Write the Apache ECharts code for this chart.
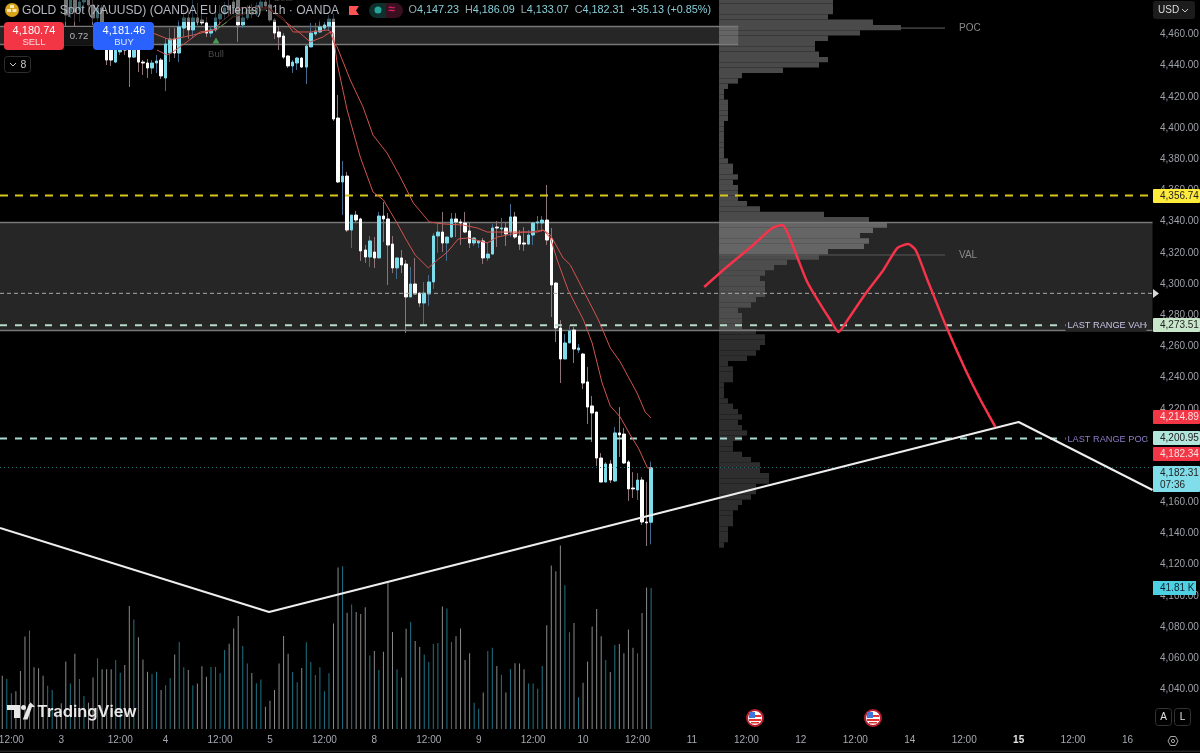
<!DOCTYPE html>
<html>
<head>
<meta charset="utf-8">
<style>html,body{margin:0;padding:0;background:#000}#chart{width:1200px;height:753px}</style>
<script src="https://cdn.jsdelivr.net/npm/echarts@6/dist/echarts.min.js"></script>
</head>
<body>
<div id="chart"></div>
<script>
// XAUUSD 1h candles: [open, close, low, high]
const ohlc = [
[4512,4506,4504,4516],[4506,4510,4503,4513],[4510,4515,4507,4518],[4515,4509,4505,4517],[4509,4504,4500,4512],
[4504,4497,4494,4507],[4497,4503,4494,4506],[4503,4499,4495,4505],[4499,4495,4492,4502],[4495,4492,4489,4497],
[4492,4495,4490,4498],[4495,4497,4493,4499],[4497,4493,4490,4499],[4493,4487,4485,4495],
[4484.0,4472.5,4462.9,4487.2],[4474.4,4485.3,4470.6,4487.2],[4482.1,4474.4,4464.1,4485.3],[4475.7,4480.8,4468.0,4484.7],
[4480.8,4485.9,4475.7,4488.5],[4485.9,4478.9,4474.4,4487.9],[4478.9,4470.6,4466.1,4482.1],[4470.6,4477.0,4465.4,4479.5],
[4477.0,4462.9,4459.7,4478.9],[4453.2,4443.6,4440.4,4456.5],[4450.0,4443.6,4439.8,4453.2],[4442.3,4450.0,4441.7,4456.5],
[4448.8,4456.5,4446.8,4459.7],[4456.5,4450.0,4446.8,4460.9],[4453.2,4445.5,4426.3,4456.5],[4445.5,4452.0,4444.9,4453.2],
[4452.0,4442.3,4435.9,4453.2],[4442.3,4441.7,4434.0,4443.6],[4441.7,4438.5,4432.1,4444.3],[4438.5,4441.7,4434.7,4443.6],
[4441.7,4443.0,4435.3,4446.8],[4443.6,4433.4,4431.4,4444.9],[4432.1,4453.9,4423.7,4457.7],[4448.1,4457.1,4442.3,4464.1],
[4457.1,4448.1,4444.9,4464.1],[4448.1,4464.8,4442.3,4469.3],[4464.1,4470.6,4458.4,4475.7],[4470.6,4462.9,4457.1,4477.0],
[4462.9,4470.6,4457.7,4482.1],[4470.6,4468.0,4466.1,4480.2],[4469.3,4467.4,4466.1,4473.8],[4467.4,4460.9,4458.4,4471.2],
[4460.9,4462.9,4458.4,4464.8],[4462.9,4470.6,4461.6,4475.7],[4469.9,4473.1,4466.1,4478.9],[4473.1,4477.0,4469.3,4480.8],
[4478.3,4475.7,4471.8,4482.1],[4480.8,4477.0,4473.1,4484.0],[4484.0,4466.1,4455.2,4485.9],[4466.1,4470.6,4464.1,4477.0],
[4470.6,4475.7,4469.3,4478.9],[4475.7,4473.1,4470.6,4479.5],[4473.1,4478.3,4471.8,4480.8],[4477.0,4480.8,4475.7,4483.4],
[4480.8,4478.3,4475.7,4483.4],[4478.9,4469.3,4468.0,4482.1],[4469.3,4460.9,4457.1,4470.6],[4461.6,4458.4,4450.0,4464.8],
[4459.0,4445.5,4444.3,4460.9],[4446.2,4439.8,4438.5,4446.8],[4439.8,4442.3,4435.3,4443.6],[4441.7,4444.9,4437.2,4445.5],
[4444.9,4439.1,4438.5,4445.5],[4439.1,4452.6,4428.2,4453.2],[4452.0,4460.9,4452.0,4467.4],[4460.3,4462.2,4459.0,4467.4],
[4461.6,4464.8,4460.9,4469.3],[4464.1,4466.1,4462.2,4468.0],[4465.4,4469.9,4462.2,4472.5],[4469.9,4405.8,4404.5,4473.1],
[4406.4,4365.4,4364.8,4421.2],[4365.4,4369.2,4344.2,4378.9],[4369.2,4334.6,4333.3,4371.8],[4334.6,4344.2,4323.1,4344.2],
[4344.2,4341.0,4339.1,4346.8],[4341.7,4321.2,4314.8,4342.5],[4321.8,4317.3,4313.5,4325.0],[4317.3,4327.6,4310.9,4330.8],
[4320.5,4316.7,4310.3,4330.1],[4316.7,4343.6,4316.7,4346.2],[4343.6,4341.7,4326.9,4352.6],[4341.7,4325.0,4299.4,4345.5],
[4325.6,4310.3,4307.0,4330.8],[4310.3,4316.7,4303.2,4316.7],[4316.7,4312.2,4307.0,4321.8],[4312.8,4291.7,4268.6,4315.4],
[4291.7,4300.0,4291.7,4310.9],[4300.0,4293.6,4293.6,4316.7],[4294.2,4287.8,4285.3,4294.2],[4287.8,4294.2,4273.1,4301.3],
[4293.6,4301.3,4285.9,4305.8],[4301.3,4330.8,4296.8,4332.7],[4330.8,4333.3,4319.9,4339.1],[4333.3,4326.3,4320.5,4346.2],
[4326.3,4330.1,4314.8,4330.1],[4330.1,4341.7,4329.5,4345.5],[4341.7,4339.8,4330.1,4345.5],[4339.8,4339.1,4325.0,4341.7],
[4339.1,4333.3,4332.7,4346.2],[4334.0,4326.3,4323.1,4339.8],[4326.3,4329.5,4324.4,4330.1],[4326.3,4327.6,4323.1,4328.2],
[4327.6,4316.7,4312.8,4329.5],[4316.7,4319.2,4314.8,4326.9],[4319.2,4335.9,4318.6,4338.5],[4336.5,4335.9,4323.7,4340.4],
[4335.3,4335.9,4331.4,4342.3],[4335.9,4332.1,4324.4,4339.8],[4333.3,4343.0,4330.1,4351.3],[4343.0,4330.1,4328.9,4346.2],
[4330.8,4325.6,4321.8,4334.6],[4326.3,4325.6,4321.2,4336.5],[4325.6,4331.4,4325.0,4334.6],[4331.4,4339.1,4325.0,4339.1],
[4339.1,4339.8,4334.6,4343.6],[4339.1,4341.0,4333.3,4343.6],[4341.0,4328.2,4325.0,4363.5],[4328.9,4299.4,4278.8,4335.9],
[4300.6,4271.8,4262.8,4301.3],[4271.8,4251.9,4236.5,4276.9],[4251.9,4262.2,4251.9,4267.9],[4262.2,4269.9,4262.2,4273.7],
[4270.5,4258.3,4249.3,4272.4],[4257.7,4259.0,4255.8,4261.5],[4255.1,4236.5,4232.7,4255.8],[4237.2,4221.1,4210.2,4246.8],
[4221.8,4217.3,4198.7,4228.2],[4217.9,4188.4,4183.3,4217.9],[4188.4,4173.0,4173.0,4191.6],[4173.0,4184.6,4173.0,4185.9],
[4184.6,4174.3,4172.4,4187.1],[4173.7,4204.5,4173.0,4208.3],[4204.5,4203.2,4189.1,4221.1],[4203.8,4185.2,4184.6,4207.7],
[4185.9,4168.6,4160.9,4187.1],[4169.2,4168.6,4162.8,4179.4],[4167.9,4174.3,4161.5,4178.8],[4174.3,4147.4,4145.5,4176.2],
[4147.4,4146.8,4132.0,4173.0],[4147.23,4182.31,4133.07,4186.09]
];

// Traded volume per bar, in thousands
const volumes = [
15.8,14.8,10.6,11.2,17.2,27.4,29.2,18.3,18.0,15.8,12.8,11.6,5.1,7.6,20.0,13.5,22.3,14.8,9.8,7.8,
15.3,21.0,17.7,17.7,17.7,20.5,16.7,19.0,36.5,32.5,27.2,20.6,17.0,16.3,17.0,11.6,13.0,15.1,22.1,25.8,
18.3,17.5,12.9,13.5,18.6,15.5,18.4,18.4,16.5,23.4,25.3,29.8,33.5,24.6,19.4,16.6,13.6,14.7,6.6,8.4,
11.6,19.4,27.6,22.3,16.9,13.9,18.1,25.7,19.9,16.0,18.3,11.2,16.5,31.3,47.9,
48.3,34.5,36.9,34.7,34.1,36.1,21.8,23.1,17.5,22.9,43.4,28.8,17.7,15.3,29.7,31.7,26.1,24.3,22.1,19.9,
25.2,25.5,36.3,35.7,25.8,27.5,29.8,20.5,22.5,7.8,6.0,10.8,23.1,24.1,18.7,16.1,10.8,17.8,19.5,19.4,
17.7,13.5,13.5,11.9,18.7,30.8,48.5,46.8,54.4,42.6,28.7,31.4,9.4,13.7,20.0,30.4,35.6,27.5,20.5,16.9,
24.9,25.2,22.5,29.5,24.1,22.5,34.4,42.0,41.81
];

// Moving averages as [bar, price] knots
const emaFast = [
[34.1,4450.0],[36.3,4446.8],[37.6,4448.8],[40.7,4455.2],[43.6,4461.6],[46.5,4462.9],[48.7,4469.3],[52.4,4477.0],[58.4,4477.6],
[61.9,4470.6],[64.1,4461.6],[67.9,4461.6],[71.8,4462.9],[72.9,4460.9],[73.8,4441.7],[76,4411.6],[78.9,4381.4],[81.7,4359.0],
[84,4353.9],[87,4339.1],[88.8,4329.5],[91,4318.6],[93.9,4310.3],[95.9,4315.4],[98.1,4320.5],[100.5,4328.9],[102.7,4329.5],
[106.9,4326.3],[109.1,4330.1],[111.3,4331.4],[114.8,4333.3],[117.9,4333.3],[119.2,4334.6],[120.8,4329.5],[122.3,4315.4],
[124.7,4296.2],[128.1,4276.9],[130,4262.2],[132.2,4236.5],[134,4221.8],[136.2,4214.7],[138.4,4203.2],[140.2,4194.8],[142.2,4182.0],[143,4182.0]
];
const emaSlow = [
[33.2,4460.9],[37,4456.5],[42.1,4459.7],[47.4,4463.5],[50.9,4471.2],[58.4,4477.0],[61.9,4469.3],[65.6,4460.9],[67.9,4455.2],
[70.7,4458.4],[72.3,4461.6],[73.1,4454.5],[73.8,4452.0],[76.7,4430.8],[79.5,4413.5],[81.7,4395.5],[84.8,4384.0],[87.7,4368.6],
[90.6,4351.9],[94.1,4339.8],[97.2,4338.5],[101.6,4337.8],[104.7,4335.9],[106.9,4333.3],[111.3,4333.3],[116.4,4333.3],[119.2,4334.6],
[120.8,4331.4],[123.6,4316.7],[125.2,4312.2],[131.4,4276.9],[134,4259.0],[136.2,4250.0],[139.9,4230.1],[141.7,4217.9],[143,4214.1]
];
const trendShort = [[47.4,4463.5],[49.5,4468],[51,4472.5],[54,4474.5],[58,4475.7]];

// Hand-drawn trend line and projected path, as [bar, price]
const trendLine = [[-0.5,4143.5],[58.8,4089.7],[224,4211.5],[253.5,4167.9]];
const projection = [
[154.7,4298.1],[158.9,4309.0],[165.5,4325.0],[169.7,4335.9],[171.9,4337.8],[173.0,4333.3],[175.2,4317.3],[177.2,4302.6],
[178.8,4294.2],[182.5,4276.9],[184.3,4269.2],[186.3,4276.9],[190.2,4293.6],[194.2,4309.0],[197.3,4323.1],[199.7,4325.6],
[201.3,4321.8],[203.9,4302.6],[207.9,4273.7],[212.3,4244.9],[215.6,4225.6],[218.9,4208.3]
];

// Volume profile rows, top row first
const profileTopPrice = 4483.2;
const profileRowSize = 3.42;
const profileRows = [
114,114,114,109,154,182,141,109,96,96,100,109,100,64,23,19,9,5,5,9,9,9,9,5,5,5,5,5,5,5,9,14,14,19,14,19,19,19,
28,41,105,150,168,154,141,150,145,109,100,68,55,46,41,46,46,46,37,32,19,23,23,23,37,46,46,41,37,28,9,14,14,14,
5,5,5,9,14,19,23,19,23,28,23,14,14,23,32,41,41,50,50,37,37,32,23,19,14,14,14,9,9,9,5
];
const pocPrice = 4464.1;
const valPrice = 4318.6;

// Shaded zones
const zoneFrom = [-0.5, -0.5];
const zoneTo = [162.2, 253.5];
const zoneHigh = [4465.6, 4339.5];
const zoneLow = [4454.1, 4270.5];

// Horizontal levels
const levelPrices = [4356.74, 4294, 4273.51, 4200.95, 4182.31];
const levelStyles = [
  {color:'#d8c81e', width:2, type:[8,7]},
  {color:'#a8a8a8', width:1, type:[4,3]},
  {color:'#b6dcc8', width:2, type:[7,8]},
  {color:'#a8dcd2', width:2, type:[7,8]},
  {color:'#23707a', width:1, type:[1,3]}
];

// Axis labels
const priceTicks = [4040,4060,4080,4100,4120,4140,4160,4180,4200,4220,4240,4260,4280,4300,4320,4340,4360,4380,4400,4420,4440,4460];
const tickBars = [2,13,26,36,48,59,71,82,94,105,117,128,140,152,164,176,188,200,212,224,236,248];
const tickTexts = ['12:00','3','12:00','4','12:00','5','12:00','8','12:00','9','12:00','10','12:00','11','12:00','12','12:00','14','12:00','15','12:00','16'];

// Price tags beside the scale
const tagAnchors = [4356.74,4273.51,4214.5,4200.95,4190.7,4175];
const tagTexts = ['4,356.74','4,273.51','4,214.89','4,200.95','4,182.34','4,182.31\n07:36'];
const tagFills = ['#ffeb3b','#c8e6c9','#f23645','#b2e5dc','#f23645','#80deea'];
const tagInks = ['#222','#222','#ffe0e0','#222','#ffe0e0','#222'];
const volumeTag = 41.81;

const barCount = 254;
const priceMin = 4014.66, priceMax = 4482.1;
const FONT = '"Liberation Sans", Arial, sans-serif';
const categories = Array.from({length: barCount}, () => '');
tickBars.forEach((b, i) => { categories[b] = tickTexts[i]; });

const bodies = ohlc.map(r => [r[0], r[1], Math.min(r[0], r[1]), Math.max(r[0], r[1])]);
const isUp = r => r[1] >= r[0];
const flat = (p) => ({type:'line', showSymbol:false, silent:true, animation:false, xAxisIndex:1, yAxisIndex:0, ...p});

function levelSeries() {
  return levelPrices.map((p, i) => flat({
    z: 5,
    data: [[-0.5, p], [253.5, p]],
    lineStyle: levelStyles[i]
  }));
}

function renderZone(params, api) {
  const a = api.coord([api.value(0), api.value(2)]);
  const b = api.coord([api.value(1), api.value(3)]);
  const yTop = Math.round(a[1]) + 0.5, yBot = Math.round(b[1]) + 0.5;
  return {type:'group', children:[
    {type:'rect', shape:{x:a[0], y:yTop, width:b[0]-a[0], height:yBot-yTop}, style:{fill:'rgba(255,255,255,0.15)'}},
    {type:'line', shape:{x1:a[0], y1:yTop, x2:b[0], y2:yTop}, style:{stroke:'#787878', lineWidth:1.4}},
    {type:'line', shape:{x1:a[0], y1:yBot, x2:b[0], y2:yBot}, style:{stroke:'#787878', lineWidth:1.4}}
  ]};
}

function renderProfileRow(params, api) {
  const row = api.value(0), size = api.value(1);
  const top = profileTopPrice - row * profileRowSize;
  const p0 = api.coord([0, top]);
  const p1 = api.coord([size, top - profileRowSize]);
  return {type:'rect',
    shape:{x:p0[0], y:p0[1], width:p1[0]-p0[0], height:p1[1]-p0[1]},
    style:{fill: top - profileRowSize / 2 > valPrice ? '#4a4a4a' : '#2e2e2e'}};
}

function renderTag(params, api) {
  const i = params.dataIndex;
  const pt = api.coord([api.value(0), api.value(1)]);
  const h = tagTexts[i].includes('\n') ? 26 : 14;
  const x = pt[0] + 0.5, y = Math.round(pt[1] - h / 2);
  return {type:'group', children:[
    {type:'rect', shape:{x, y, width:47, height:h, r:1}, style:{fill:tagFills[i]}},
    {type:'text', style:{text:tagTexts[i], x:x+7, y:y+h/2, fill:tagInks[i], font:'10px '+FONT, lineHeight:12, align:'left', verticalAlign:'middle'}}
  ]};
}

function renderRangeLabel(params, api) {
  const pt = api.coord([api.value(0), api.value(1)]);
  const txt = params.dataIndex === 0 ? 'LAST RANGE VAH' : 'LAST RANGE POC';
  return {type:'group', children:[
    {type:'rect', shape:{x:pt[0]-87, y:pt[1]-6, width:81, height:12}, style:{fill: params.dataIndex === 0 ? '#262626' : '#000'}},
    {type:'text', style:{text:txt, x:pt[0]-85, y:pt[1]+0.5, fill: params.dataIndex === 0 ? '#c8c4e6' : '#8f7cc8', font:'9.2px '+FONT, align:'left', verticalAlign:'middle'}}
  ]};
}

function flagBadge(cx, cy) {
  return [
    {type:'circle', z:120, shape:{cx, cy, r:8}, style:{fill:'#fff', stroke:'#b71c2c', lineWidth:2}},
    {type:'rect', z:121, shape:{x:cx-6, y:cy-6, width:6, height:6}, style:{fill:'#3d76d8'}},
    {type:'rect', z:121, shape:{x:cx, y:cy-3, width:6, height:2}, style:{fill:'#d33'}},
    {type:'rect', z:121, shape:{x:cx-6, y:cy+1, width:12, height:2}, style:{fill:'#d33'}},
    {type:'rect', z:121, shape:{x:cx-4, y:cy+4, width:8, height:1.5}, style:{fill:'#d33'}}
  ];
}

const txt = (text, x, y, fill, font, extra) => ({type:'text', z:130, style:{text, x, y, fill, font:font + ' ' + FONT, verticalAlign:'middle', align:'left', ...(extra||{})}});

const chrome = [
  // legend strip
  {type:'rect', z:100, shape:{x:0, y:0, width:345, height:22}, style:{fill:'rgba(0,0,0,0.55)'}},
  {type:'circle', z:130, shape:{cx:12, cy:10, r:7}, style:{fill:'#d8a21a'}},
  {type:'rect', z:131, shape:{x:10, y:5, width:4, height:3}, style:{fill:'#fbe9b0'}},
  {type:'rect', z:131, shape:{x:7, y:9, width:4, height:3}, style:{fill:'#fbe9b0'}},
  {type:'rect', z:131, shape:{x:12.5, y:9, width:4, height:3}, style:{fill:'#fbe9b0'}},
  txt('GOLD Spot (XAUUSD) (OANDA EU Clients) · 1h · OANDA', 22, 10.5, '#b2b5be', '12.1px'),
  {type:'polygon', z:130, shape:{points:[[349,6],[359,6],[356,10.5],[359,15],[349,15]]}, style:{fill:'#ff5252'}},
  {type:'rect', z:130, shape:{x:369, y:3, width:17, height:15, r:[7.5,0,0,7.5]}, style:{fill:'#0e2f2b'}},
  {type:'rect', z:130, shape:{x:386, y:3, width:17, height:15, r:[0,7.5,7.5,0]}, style:{fill:'#381020'}},
  {type:'circle', z:131, shape:{cx:378, cy:10, r:3.5}, style:{fill:'#26a69a'}},
  txt('≈', 388.5, 10, '#e91e63', 'bold 12px'),
  {type:'text', z:130, style:{
    x:408.5, y:10, verticalAlign:'middle', align:'left', font:'10.8px '+FONT,
    text:'{l|O}{v|4,147.23}  {l|H}{v|4,186.09}  {l|L}{v|4,133.07}  {l|C}{v|4,182.31}  {v|+35.13 (+0.85%)}',
    rich:{l:{fill:'#9aa5ab', font:'10.8px '+FONT}, v:{fill:'#86cfd9', font:'10.8px '+FONT}}
  }},
  // order buttons
  {type:'rect', z:130, shape:{x:4, y:22, width:60, height:28, r:4}, style:{fill:'#f23645'}},
  txt('4,180.74', 34, 31, '#fff', '11px', {align:'center'}),
  txt('SELL', 34, 42.5, '#ffd9dc', '9.5px', {align:'center'}),
  {type:'rect', z:129, shape:{x:64, y:27, width:29, height:18}, style:{fill:'#141414'}},
  txt('0.72', 79, 36, '#b2b5be', '9.5px', {align:'center'}),
  {type:'rect', z:130, shape:{x:93, y:22, width:61, height:28, r:4}, style:{fill:'#2962ff'}},
  txt('4,181.46', 124, 31, '#fff', '11px', {align:'center'}),
  txt('BUY', 124, 42.5, '#dbe4ff', '9.5px', {align:'center'}),
  {type:'rect', z:130, shape:{x:4.5, y:56.5, width:26, height:16, r:3}, style:{fill:'#000', stroke:'#2e2e2e'}},
  {type:'polyline', z:131, shape:{points:[[10,63],[13,66],[16,63]]}, style:{stroke:'#c8c8c8', fill:null, lineWidth:1}},
  txt('8', 20.5, 65, '#c8c8c8', '10.5px'),
  // Bull and Bear markers
  {type:'polygon', z:110, shape:{points:[[216,37.5],[219.5,43.5],[212.5,43.5]]}, style:{fill:'#4b9a55'}},
  txt('Bull', 216, 54.5, '#4a4a4a', '9.5px', {align:'center'}),
  txt('Bear', 284, -1.5, '#3e3e3e', '9.5px', {align:'center'}),
  // scale header
  {type:'rect', z:130, shape:{x:1153, y:1, width:42, height:18, r:3}, style:{fill:'#1c1c1c'}},
  txt('USD', 1158, 10.5, '#dcdcdc', '10px'),
  {type:'polyline', z:131, shape:{points:[[1182,9],[1185,12],[1188,9]]}, style:{stroke:'#c8c8c8', fill:null, lineWidth:1}},
  // scale marker
  {type:'polygon', z:130, shape:{points:[[1153,289],[1159,293.5],[1153,298]]}, style:{fill:'#d8d8d8'}},
  // logo
  {type:'polygon', z:130, shape:{points:[[7,705],[20,705],[20,718],[14,718],[14,710],[7,710]]}, style:{fill:'#e8e8e8'}},
  {type:'circle', z:130, shape:{cx:23.5, cy:707.5, r:2.5}, style:{fill:'#e8e8e8'}},
  {type:'polygon', z:130, shape:{points:[[25,718],[30,705.5],[31.5,705.5],[31,705],[26.5,718]]}, style:{fill:'#e8e8e8', stroke:'#e8e8e8', lineWidth:3}},
  {type:'text', z:130, style:{text:'TradingView', x:37, y:712, fill:'#e8e8e8', font:'600 16.4px Inter, sans-serif', verticalAlign:'middle', align:'left'}},
  // footer tools
  ...flagBadge(755, 718), ...flagBadge(873, 718),
  {type:'rect', z:130, shape:{x:1155.5, y:708.5, width:16, height:17, r:3}, style:{fill:'#000', stroke:'#333'}},
  txt('A', 1163.5, 717.5, '#e0e0e0', '10px', {align:'center'}),
  {type:'rect', z:130, shape:{x:1174.5, y:708.5, width:16, height:17, r:3}, style:{fill:'#000', stroke:'#333'}},
  txt('L', 1182.5, 717.5, '#e0e0e0', '10px', {align:'center'}),
  {type:'polygon', z:130, shape:{points:[[1168,741],[1170.5,736.5],[1175.5,736.5],[1178,741],[1175.5,745.5],[1170.5,745.5]]}, style:{fill:'none', stroke:'#a8a8a8', lineWidth:1}},
  {type:'circle', z:130, shape:{cx:1173, cy:741, r:1.6}, style:{fill:'none', stroke:'#a8a8a8', lineWidth:1}},
  {type:'rect', z:130, shape:{x:0, y:750.5, width:1200, height:1.5}, style:{fill:'#242424'}}
];

const chart = echarts.init(document.getElementById('chart'), null, {renderer:'canvas'});
chart.setOption({
  animation:false,
  backgroundColor:'#000',
  graphic: chrome,
  grid:[
    {left:0, top:0, width:1152.5, height:729, outerBoundsMode:'none'},
    {left:719, top:0, width:433.5, height:729, outerBoundsMode:'none'}
  ],
  xAxis:[
    {type:'category', gridIndex:0, data:categories, boundaryGap:true, axisLine:{show:false}, axisTick:{show:false}, splitLine:{show:false},
     axisLabel:{interval:(i, v) => v !== '', margin:6, color:'#a6a9b0', fontFamily:'Liberation Sans', fontSize:10, hideOverlap:false,
       formatter:v => v === '15' ? '{b|15}' : v, rich:{b:{color:'#e4e4e4', fontWeight:'bold', fontFamily:'Liberation Sans', fontSize:10}}}},
    {type:'value', gridIndex:0, min:-0.5, max:253.5, show:false},
    {type:'value', gridIndex:1, min:0, max:433.5, show:false}
  ],
  yAxis:[
    {type:'value', gridIndex:0, position:'right', min:priceMin, max:priceMax, axisLine:{show:false}, axisTick:{show:false}, splitLine:{show:false},
     axisLabel:{customValues:priceTicks, margin:7.5, color:'#9ea1a8', fontFamily:'Liberation Sans', fontSize:10,
       formatter:v => v.toLocaleString('en-US',{minimumFractionDigits:2, maximumFractionDigits:2})}},
    {type:'value', gridIndex:0, min:0, max:216.2, show:false},
    {type:'value', gridIndex:1, min:priceMin, max:priceMax, show:false}
  ],
  series:[
    {name:'Volume', type:'bar', xAxisIndex:0, yAxisIndex:1, barWidth:1, z:1, silent:true, large:false,
     data:volumes.map((v, i) => ({value:v, itemStyle:{color: isUp(ohlc[i]) ? '#1f7585' : '#8a8a8a'}}))},
    {name:'Volume profile', type:'custom', xAxisIndex:2, yAxisIndex:2, z:1, silent:true, clip:true, renderItem:renderProfileRow,
     encode:{x:1}, data:profileRows.map((v, i) => [i, v])},
    {name:'Zones', type:'custom', xAxisIndex:1, yAxisIndex:0, z:2, silent:true, clip:true, renderItem:renderZone,
     data:zoneFrom.map((f, i) => [f, zoneTo[i], zoneHigh[i], zoneLow[i]])},
    {name:'Wicks', type:'candlestick', xAxisIndex:0, yAxisIndex:0, barWidth:1, z:3, silent:true, data:ohlc,
     itemStyle:{color:'#466a8c', color0:'#8c7478', borderColor:'#466a8c', borderColor0:'#8c7478', borderWidth:1}},
    {name:'Candles', type:'candlestick', xAxisIndex:0, yAxisIndex:0, barWidth:3, z:4, silent:true, data:bodies,
     itemStyle:{color:'#7fdcea', color0:'#ffffff', borderColor:'#7fdcea', borderColor0:'#ffffff', borderWidth:1}},
    flat({name:'EMA fast', z:6, data:emaFast, lineStyle:{color:'#d0544f', width:1}}),
    flat({name:'EMA slow', z:6, data:emaSlow, lineStyle:{color:'#d0544f', width:1}}),
    flat({name:'Short trend', z:6, data:trendShort, lineStyle:{color:'#3f8a4c', width:1}}),
    ...levelSeries(),
    flat({name:'Trend line', z:8, data:trendLine, lineStyle:{color:'#eeeeee', width:2}}),
    flat({name:'Projection', z:8, data:projection, smooth:0.2, lineStyle:{color:'#f6334a', width:2.5}}),
    {name:'POC', type:'line', xAxisIndex:2, yAxisIndex:2, showSymbol:false, silent:true, z:7, data:[[182, pocPrice],[226, pocPrice]], lineStyle:{color:'#666', width:1},
     endLabel:{show:true, formatter:'POC', distance:14, color:'#8a8a8a', fontFamily:'Liberation Sans', fontSize:10}},
    {name:'VAL', type:'line', xAxisIndex:2, yAxisIndex:2, showSymbol:false, silent:true, z:7, data:[[0, valPrice],[226, valPrice]], lineStyle:{color:'#5a5a5a', width:1},
     endLabel:{show:true, formatter:'VAL', distance:14, color:'#8a8a8a', fontFamily:'Liberation Sans', fontSize:10}},
    {name:'Range labels', type:'custom', xAxisIndex:1, yAxisIndex:0, z:9, silent:true, renderItem:renderRangeLabel,
     data:[[253.5, levelPrices[2]],[253.5, levelPrices[3]]]},
    {name:'Price tags', type:'custom', xAxisIndex:1, yAxisIndex:0, z:10, silent:true, renderItem:renderTag,
     data:tagAnchors.map(p => [253.5, p])},
    {name:'Volume tag', type:'custom', xAxisIndex:1, yAxisIndex:1, z:10, silent:true,
     renderItem:(params, api) => {
       const pt = api.coord([api.value(0), api.value(1)]);
       const x = pt[0] + 0.5, y = Math.round(pt[1] - 7);
       return {type:'group', children:[
         {type:'rect', shape:{x, y, width:43, height:14}, style:{fill:'#4dd0e1'}},
         {type:'text', style:{text:'41.81 K', x:x+7, y:y+7, fill:'#123', font:'10px '+FONT, align:'left', verticalAlign:'middle'}}
       ]};
     },
     data:[[253.5, volumeTag]]}
  ]
});
</script>
</body>
</html>
